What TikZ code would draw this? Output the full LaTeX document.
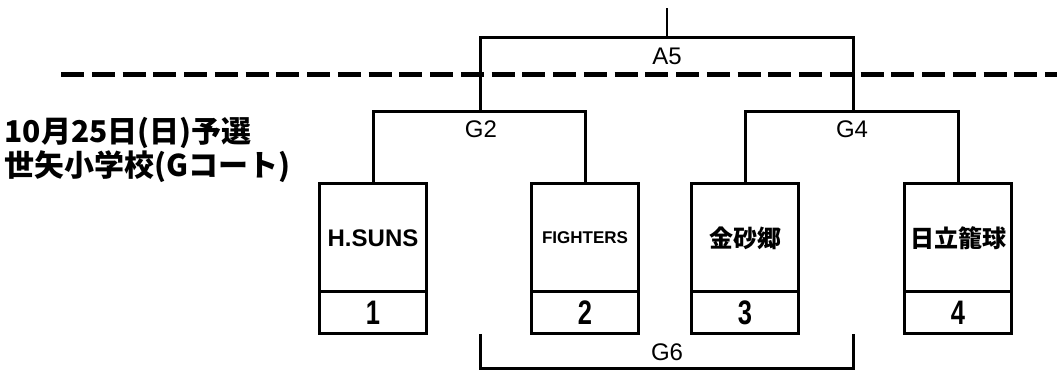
\documentclass[tikz,border=0pt]{standalone}
\usepackage{fontspec}
\setmainfont{Liberation Sans}
\newfontfamily\jpfont{Noto Sans CJK JP}
\newfontfamily\numfont[FakeStretch=0.75]{Liberation Sans}
\usetikzlibrary{positioning}

\begin{document}
\begin{tikzpicture}[x=1pt, y=1pt, line width=3pt, node distance=0pt,
    team/.style={draw, outer sep=0pt, minimum width=107pt, minimum height=108pt, inner sep=0pt, font=\bfseries\fontsize{24}{24}\selectfont},
    num/.style={draw, outer sep=0pt, minimum width=107pt, minimum height=42pt, inner sep=0pt, font=\numfont\bfseries\fontsize{34}{34}\selectfont},
    lbl/.style={inner sep=0pt, font=\fontsize{24}{24}\selectfont}]
      \useasboundingbox (0,0) rectangle (1057,371);

      % teams
      \node[team] (t1) at (373,133) {H.SUNS};
      \node[team, font=\bfseries\fontsize{17}{17}\selectfont] (t2) at (585,133) {FIGHTERS};
      \node[team, font=\jpfont\bfseries\fontsize{24}{24}\selectfont] (t3) at (745,133) {金砂郷};
      \node[team, font=\jpfont\bfseries\fontsize{24}{24}\selectfont] (t4) at (958,133) {日立籠球};
      \node[num] (n1) [below=of t1] {1};
      \node[num] (n2) [below=of t2] {2};
      \node[num] (n3) [below=of t3] {3};
      \node[num] (n4) [below=of t4] {4};

      % title
      \node[anchor=west, inner sep=0pt, align=left, font=\jpfont\bfseries\fontsize{30}{34}\selectfont] (title) at (3,221) {10月25日(日)予選\\世矢小学校(Gコート)};

      % brackets
      \coordinate (g2) at (480,259);
      \coordinate (g4) at (853,259);
      \coordinate (a5) at (666.5,333);
      \coordinate (top) at (666.5,363);
      \coordinate (g6l) at (480,37);
      \coordinate (g6r) at (853,37);
      \coordinate (g6) at (666.5,2);
      \coordinate (dl) at (61,296.5);
      \coordinate (dr) at (1057,296.5);

      \draw (t1.north) |- (g2) -| (t2.north);
      \draw (t3.north) |- (g4) -| (t4.north);
      \draw (g2) |- (a5) -| (g4);
      \draw[line width=2pt] (a5) -- (top);
      \draw (g6l) |- (g6) -| (g6r);
      \draw[line width=5pt, dash pattern=on 23pt off 7.75pt] (dl) -- (dr);

      \node[lbl] at (667,315) {A5};
      \node[lbl] at (481,242) {G2};
      \node[lbl] at (852,242) {G4};
      \node[lbl] at (667,18.5) {G6};
    \end{tikzpicture}
\end{document}
